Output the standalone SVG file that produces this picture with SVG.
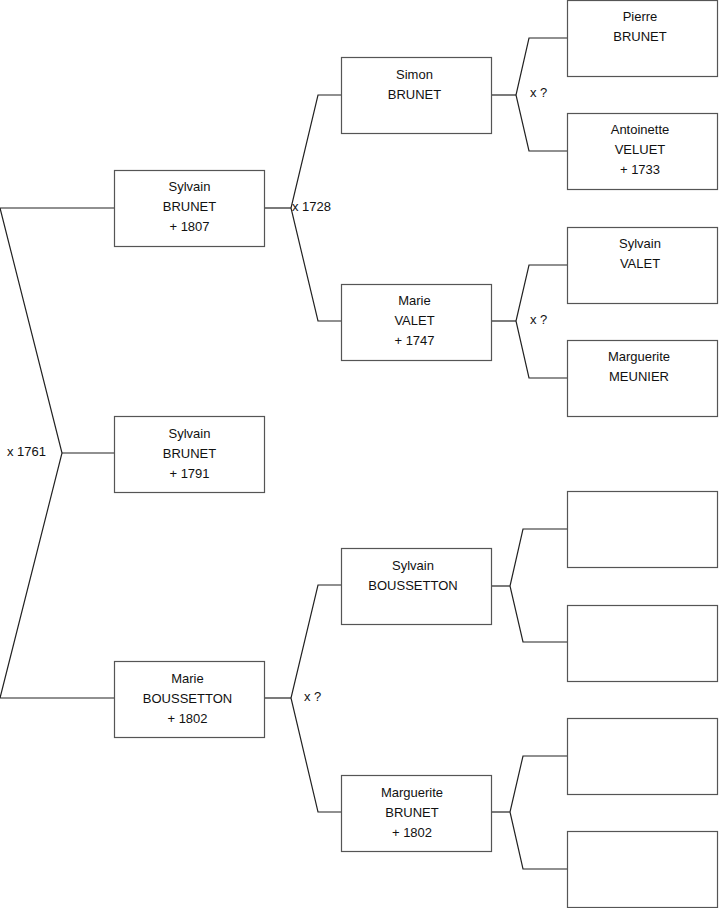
<svg xmlns="http://www.w3.org/2000/svg" width="719" height="908" viewBox="0 0 719 908">
<style>
.b{fill:#fff;stroke:#555;stroke-width:1.2}
.c{fill:none;stroke:#222;stroke-width:1.2}
text{font-family:"Liberation Sans",Arial,sans-serif;font-size:13px;fill:#111}
.m{text-anchor:middle}
</style>
<rect width="719" height="908" fill="#fff"/>
<g id="connectors">
<polyline class="c" points="114,208 0,208 62,453 0,698 114,698"/>
<line class="c" x1="62" y1="453" x2="114" y2="453"/>
<polyline class="c" points="341,95 318,95 291,208 318,321 341,321"/>
<line class="c" x1="265" y1="208" x2="291" y2="208"/>
<polyline class="c" points="341,585 318,585 291,698 318,812 341,812"/>
<line class="c" x1="265" y1="698" x2="291" y2="698"/>
<polyline class="c" points="567,38 529,38 516,95 529,151 567,151"/>
<line class="c" x1="492" y1="95" x2="516" y2="95"/>
<polyline class="c" points="567,265 529,265 516,321 529,378 567,378"/>
<line class="c" x1="492" y1="321" x2="516" y2="321"/>
<polyline class="c" points="567,529 523,529 510,586 523,642 567,642"/>
<line class="c" x1="492" y1="586" x2="510" y2="586"/>
<polyline class="c" points="567,756 523,756 510,812 523,869 567,869"/>
<line class="c" x1="492" y1="812" x2="510" y2="812"/>
<text x="7" y="456">x 1761</text>
<text x="292" y="211">x 1728</text>
<text x="304" y="701">x ?</text>
<text x="530" y="97">x ?</text>
<text x="530" y="324">x ?</text>
</g>
<g id="n1"><rect class="b" x="114.5" y="170.5" width="150" height="76"/><text class="m" x="189.5" y="191">Sylvain</text><text class="m" x="189.5" y="211">BRUNET</text><text class="m" x="189.5" y="231">+ 1807</text></g>
<g id="n2"><rect class="b" x="114.5" y="416.5" width="150" height="76"/><text class="m" x="189.5" y="438">Sylvain</text><text class="m" x="189.5" y="458">BRUNET</text><text class="m" x="189.5" y="478">+ 1791</text></g>
<g id="n3"><rect class="b" x="114.5" y="661.5" width="150" height="76"/><text class="m" x="187.5" y="683">Marie</text><text class="m" x="187.5" y="703">BOUSSETTON</text><text class="m" x="187.5" y="723">+ 1802</text></g>
<g id="n4"><rect class="b" x="341.5" y="57.5" width="150" height="76"/><text class="m" x="414.5" y="79">Simon</text><text class="m" x="414.5" y="99">BRUNET</text></g>
<g id="n5"><rect class="b" x="341.5" y="284.5" width="150" height="76"/><text class="m" x="414.5" y="305">Marie</text><text class="m" x="414.5" y="325">VALET</text><text class="m" x="414.5" y="345">+ 1747</text></g>
<g id="n6"><rect class="b" x="341.5" y="548.5" width="150" height="76"/><text class="m" x="413" y="570">Sylvain</text><text class="m" x="413" y="590">BOUSSETTON</text></g>
<g id="n7"><rect class="b" x="341.5" y="775.5" width="150" height="76"/><text class="m" x="412" y="797">Marguerite</text><text class="m" x="412" y="817">BRUNET</text><text class="m" x="412" y="837">+ 1802</text></g>
<g id="n8"><rect class="b" x="567.5" y="0.5" width="150" height="76"/><text class="m" x="640" y="21">Pierre</text><text class="m" x="640" y="41">BRUNET</text></g>
<g id="n9"><rect class="b" x="567.5" y="113.5" width="150" height="76"/><text class="m" x="640" y="134">Antoinette</text><text class="m" x="640" y="154">VELUET</text><text class="m" x="640" y="174">+ 1733</text></g>
<g id="n10"><rect class="b" x="567.5" y="227.5" width="150" height="76"/><text class="m" x="640" y="248">Sylvain</text><text class="m" x="640" y="268">VALET</text></g>
<g id="n11"><rect class="b" x="567.5" y="340.5" width="150" height="76"/><text class="m" x="639" y="361">Marguerite</text><text class="m" x="639" y="381">MEUNIER</text></g>
<g id="n12"><rect class="b" x="567.5" y="491.5" width="150" height="76"/></g>
<g id="n13"><rect class="b" x="567.5" y="605.5" width="150" height="76"/></g>
<g id="n14"><rect class="b" x="567.5" y="718.5" width="150" height="76"/></g>
<g id="n15"><rect class="b" x="567.5" y="831.5" width="150" height="76"/></g>
</svg>
